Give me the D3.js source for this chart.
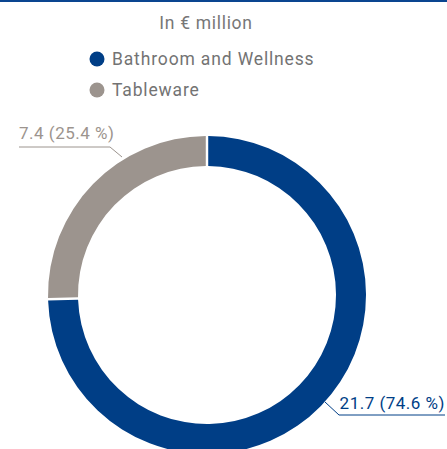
<!DOCTYPE html>
<html><head><meta charset="utf-8">
<script src="https://cdn.jsdelivr.net/npm/d3@7"></script>
<style>body{margin:0;background:#fff;}svg{display:block;font-family:Roboto,"Noto Sans",sans-serif;}</style>
</head><body>
<svg id="c" width="447" height="449"></svg>
<script>
const categories = ["Bathroom and Wellness", "Tableware"];
const values = [21.7, 7.4];
const shares = ["74.6", "25.4"];
const colors = ["#003e86", "#9c948e"];
const title = "In € million";

const svg = d3.select("#c");
svg.append("rect").attr("x",0).attr("y",0).attr("width",447).attr("height",2).attr("fill","#0a4590");
svg.append("text").attr("x",206).attr("y",29).attr("text-anchor","middle")
  .attr("font-size",17.5).attr("letter-spacing",0.7).attr("fill","#777").text(title);

const leg = svg.selectAll("g.leg").data(categories).enter().append("g")
  .attr("transform",(d,i)=>`translate(97,${59+i*31})`);
leg.append("circle").attr("r",7.5).attr("fill",(d,i)=>colors[i]);
leg.append("text").attr("x",15).attr("y",6).attr("font-size",17.5).attr("fill","#737373")
  .attr("letter-spacing",0.85).text(d=>d);

const cx=207, cy=295, R=159, r=129;
const pie = d3.pie().sort(null).value(d=>d);
const arc = d3.arc().innerRadius(r).outerRadius(R).padAngle(0.012);
const g = svg.append("g").attr("transform",`translate(${cx},${cy})`);
g.selectAll("path").data(pie(values)).enter().append("path")
  .attr("d",arc).attr("fill",(d,i)=>colors[i]);

// labels
const lab = [
  {i:1, tx:19, ty:139, anchor:"start", line:[[19,147],[110,147],[122,157]]},
  {i:0, tx:445, ty:409, anchor:"end", line:[[325,402],[339,415],[445,415]]}
];
lab.forEach(l=>{
  svg.append("polyline").attr("points",l.line.map(p=>p.join(",")).join(" "))
    .attr("fill","none").attr("stroke",colors[l.i]).attr("stroke-width",1);
  svg.append("text").attr("x",l.tx).attr("y",l.ty).attr("text-anchor",l.anchor)
    .attr("font-size",17).attr("letter-spacing",0.5).attr("fill",colors[l.i])
    .text(`${values[l.i]} (${shares[l.i]} %)`);
});
</script>
</body></html>
